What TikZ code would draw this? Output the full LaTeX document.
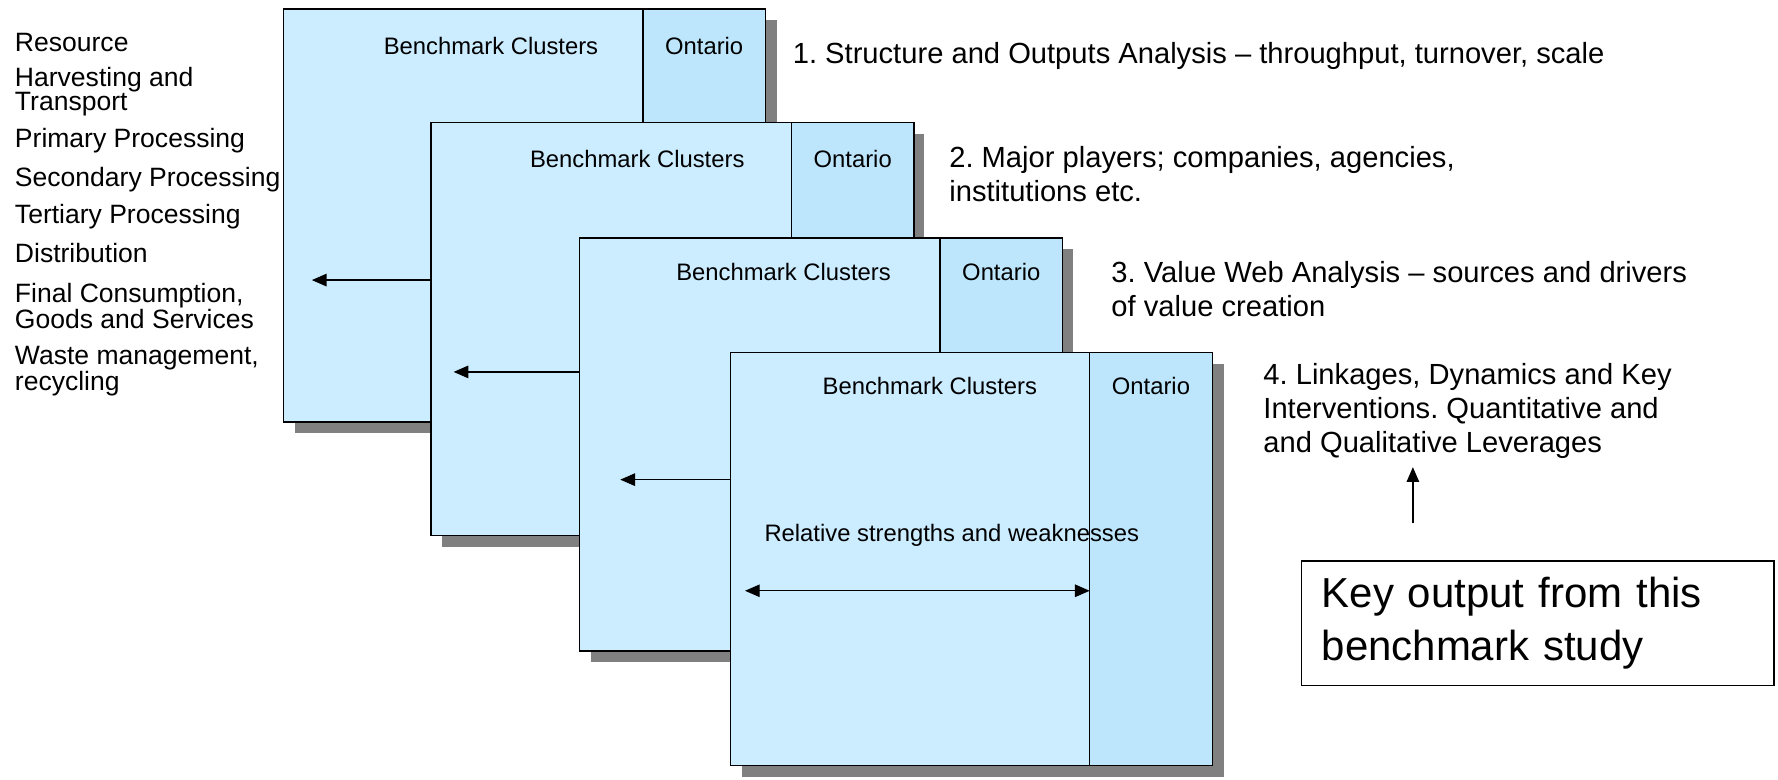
\documentclass[tikz,border=0pt]{standalone}
\usepackage{fontspec}
\setmainfont{Liberation Sans}
\usetikzlibrary{arrows.meta}
\definecolor{pfill}{HTML}{CCECFF}
\definecolor{ofill}{HTML}{BDE6FC}
\definecolor{shade}{HTML}{808080}
\frenchspacing
\begin{document}
\begin{tikzpicture}[x=1pt,y=-1pt,
 panel/.style={draw=black, line width=1.2pt, fill=pfill, anchor=north west, minimum width=425pt, minimum height=364pt, inner sep=0pt, outer sep=0pt},
 shadowbox/.style={fill=shade, anchor=north west, minimum width=425pt, minimum height=364pt, inner sep=0pt, outer sep=0pt},
 ontcol/.style={draw=black, line width=1.2pt, fill=ofill, anchor=north west, minimum width=108pt, minimum height=364pt, inner sep=0pt, outer sep=0pt},
 lbl/.style={font=\fontsize{21}{24}\selectfont, inner sep=0pt},
 listitem/.style={font=\fontsize{23.4}{21}\selectfont, inner sep=0pt, anchor=north west, align=left},
 numtext/.style={font=\fontsize{25.7}{30}\selectfont, inner sep=0pt, anchor=north west, align=left},
 arr/.style={line width=1.2pt, -{Triangle[length=13pt,width=11pt]}},
 darr/.style={line width=1.2pt, {Triangle[length=13pt,width=11pt]}-{Triangle[length=13pt,width=11pt]}}
]
\useasboundingbox (0,0) rectangle (1568,687);

% left list
\node[listitem] (l1) at (13,29) {Resource};
\node[listitem] (l2) at (13,59) {Harvesting and\\Transport};
\node[listitem] (l3) at (13,113) {Primary Processing};
\node[listitem] (l4) at (13,147) {Secondary Processing};
\node[listitem] (l5) at (13,180) {Tertiary Processing};
\node[listitem] (l6) at (13,214) {Distribution};
\node[listitem] (l7) at (13,250) {Final Consumption,\\Goods and Services};
\node[listitem] (l8) at (13,305) {Waste management,\\recycling};

% panel 1
\node[shadowbox] (s1) at (260,18) {};
\node[panel] (p1) at (250,8) {};
\node[ontcol] (o1) at (567,8) {};
\node[lbl] (b1) at (433,41) {Benchmark Clusters};
\node[lbl] (t1) at (o1.north |- b1) {Ontario};

% panel 2
\node[shadowbox] (s2) at (390,118) {};
\node[panel] (p2) at (380,108) {};
\node[ontcol] (o2) at (698,108) {};
\node[lbl] (b2) at (562,140) {Benchmark Clusters};
\node[lbl] (t2) at (o2.north |- b2) {Ontario};

% panel 3
\node[shadowbox] (s3) at (521,220) {};
\node[panel] (p3) at (511,210) {};
\node[ontcol] (o3) at (829,210) {};
\node[lbl] (b3) at (691,240) {Benchmark Clusters};
\node[lbl] (t3) at (o3.north |- b3) {Ontario};

% panel 4
\node[shadowbox] (s4) at (654,321) {};
\node[panel] (p4) at (644,311) {};
\node[ontcol] (o4) at (961,311) {};
\node[lbl] (b4) at (820,340) {Benchmark Clusters};
\node[lbl] (t4) at (o4.north |- b4) {Ontario};
\node[lbl, anchor=west, text depth=0pt] (rs) at (674,470) {Relative strengths and weaknesses};

% arrows
\coordinate (e1) at (275,247);
\draw[arr] (p2.west |- e1) -- (e1);
\coordinate (e2) at (400,328);
\draw[arr] (p3.west |- e2) -- (e2);
\coordinate (e3) at (547,423);
\draw[arr] (p4.west |- e3) -- (e3);
\coordinate (e4) at (657,521);
\draw[darr] (e4) -- (o4.west |- e4);

% numbered texts
\node[numtext] (n1) at (699,37) {1. Structure and Outputs Analysis -- throughput, turnover, scale};
\node[numtext] (n2) at (837,129) {2. Major players; companies, agencies,\\institutions etc.};
\node[numtext] (n3) at (980,230) {3. Value Web Analysis -- sources and drivers\\of value creation};
\node[numtext] (n4) at (1114,320) {4. Linkages, Dynamics and Key\\Interventions. Quantitative and\\and Qualitative Leverages};

% key output
\node[draw=black, line width=1.2pt, anchor=north west, minimum width=417pt, minimum height=110pt,
      inner xsep=18pt, inner ysep=0pt, text width=381pt, align=left,
      font=\fontsize{37}{46}\selectfont] (key) at (1147,494) {Key output from this\\benchmark study};
\coordinate (u0) at (1246,461);
\coordinate (u1) at (1246,412);
\draw[arr] (u0) -- (u1);
\end{tikzpicture}
\end{document}
